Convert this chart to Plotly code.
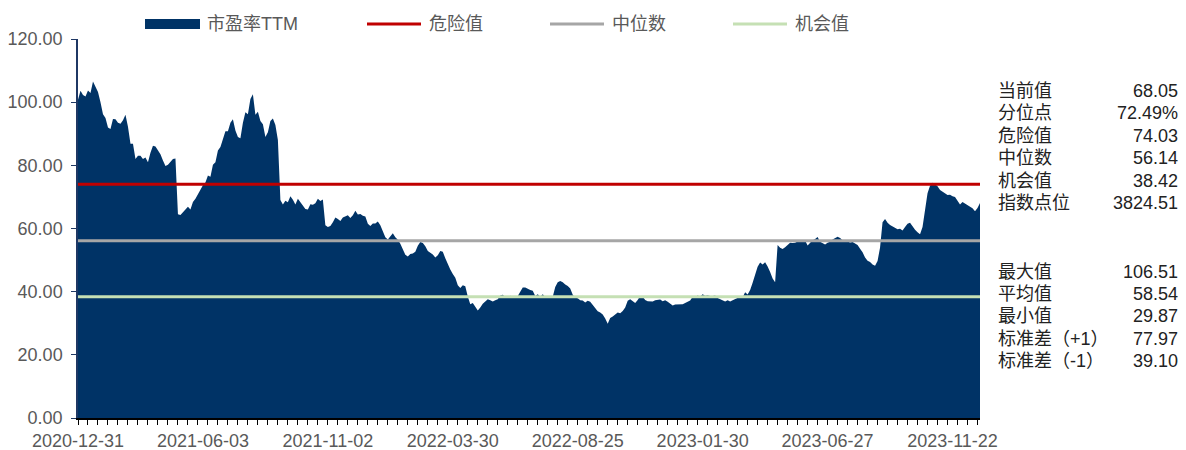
import numpy as np
import plotly.graph_objects as go

# Trading-day tick labels (one every 100 trading days)
date_labels = ["2020-12-31", "2021-06-03", "2021-11-02", "2022-03-30",
               "2022-08-25", "2023-01-30", "2023-06-27", "2023-11-22"]
label_days = [0, 100, 200, 300, 400, 500, 600, 700]

# PE (TTM), sampled every 2 trading days
sample_step = 2
pe_ttm = [
    100.8, 103.6, 102.3, 101.8, 103.7, 102.9, 106.51, 105.0, 103.2, 100.0,
    96.2, 95.0, 92.0, 91.5, 94.7, 94.6, 93.5, 93.2, 94.3, 96.0,
    92.2, 86.8, 86.8, 82.0, 83.0, 83.0, 82.0, 82.5, 81.0, 84.0,
    86.2, 86.0, 84.8, 83.5, 81.5, 79.8, 80.2, 81.0, 82.0, 82.2,
    64.5, 64.3, 65.2, 66.2, 66.9, 66.0, 68.4, 69.4, 71.0, 72.2,
    73.7, 74.6, 76.8, 76.4, 80.2, 81.0, 84.7, 85.8, 88.0, 90.8,
    90.8, 93.5, 94.6, 91.0, 89.0, 88.6, 93.5, 96.8, 96.2, 101.0,
    102.5, 96.0, 97.0, 94.0, 93.0, 89.0, 90.5, 94.0, 94.8, 92.8,
    88.0, 69.0, 67.6, 68.8, 68.3, 70.2, 69.1, 67.6, 69.4, 68.2,
    67.0, 66.2, 66.0, 67.7, 67.5, 68.0, 69.4, 68.7, 69.2, 61.0,
    60.5, 60.8, 62.0, 63.5, 63.0, 62.4, 63.5, 63.8, 64.2, 63.3,
    64.2, 65.6, 64.4, 64.6, 64.0, 63.8, 61.5, 60.8, 61.6, 61.6,
    62.2, 61.0, 59.0, 57.2, 56.5, 57.6, 58.5, 57.2, 56.4, 55.2,
    53.4, 51.7, 51.1, 51.9, 52.1, 52.6, 54.5, 55.7, 55.4, 54.4,
    52.9, 52.4, 51.8, 50.8, 51.5, 52.9, 52.6, 50.6, 48.6, 47.0,
    45.6, 44.4, 42.0, 41.2, 42.0, 41.7, 38.5, 36.0, 36.4, 35.0,
    34.0, 35.0, 36.2, 36.9, 37.6, 37.3, 36.9, 37.3, 37.6, 38.8,
    39.0, 38.3, 38.3, 38.7, 38.4, 38.6, 38.6, 40.0, 41.3, 41.3,
    40.8, 40.5, 40.3, 38.6, 39.2, 38.4, 39.2, 38.3, 38.2, 38.2,
    38.4, 41.5, 43.0, 43.4, 43.0, 42.3, 41.8, 41.0, 39.0, 38.1,
    37.9, 37.3, 37.2, 36.6, 37.1, 36.8, 35.8, 35.0, 33.8, 33.4,
    32.8, 31.5, 29.87, 31.7, 32.1, 32.8, 33.4, 33.2, 33.9, 35.0,
    37.1, 37.6, 36.9, 36.4, 37.4, 38.6, 38.4, 37.4, 37.0, 37.0,
    36.9, 37.3, 37.3, 37.5, 37.0, 37.3, 36.8, 36.2, 35.6, 35.9,
    36.0, 36.0, 36.0, 36.4, 36.8, 37.2, 38.4, 38.4, 38.8, 38.5,
    39.2, 38.7, 38.9, 38.6, 38.6, 38.8, 38.0, 37.6, 37.2, 36.9,
    37.3, 36.9, 37.3, 37.7, 38.1, 38.4, 38.2, 39.8, 39.1, 40.5,
    42.8, 45.8, 47.9, 49.2, 48.6, 49.3, 48.0, 46.2, 44.2, 43.0,
    54.8, 53.9, 53.5, 54.1, 54.9, 55.5, 55.4, 55.5, 55.9, 56.3,
    55.9, 56.2, 54.6, 55.5, 56.3, 56.7, 57.3, 55.8, 55.3, 54.9,
    55.5, 55.8, 56.5, 57.0, 57.4, 57.0, 56.3, 56.1, 55.8, 55.6,
    55.7, 55.2, 54.8, 53.6, 52.5, 50.8, 49.8, 49.4, 48.6, 48.2,
    49.7, 54.0, 62.0, 63.0, 61.8, 61.1, 60.7, 60.4, 59.8, 59.9,
    59.4, 60.5, 61.5, 61.8, 60.6, 59.6, 58.8, 58.2, 60.5, 66.5,
    71.2, 73.5, 74.5, 74.0, 73.4, 72.2, 71.6, 71.0, 70.6, 70.7,
    70.2, 70.0, 68.8, 67.6, 68.4, 67.9, 67.4, 66.9, 66.4, 65.5,
    66.5, 68.05,
]

# Reference levels
danger_value = 74.03
median_value = 56.14
chance_value = 38.42

# Side panel statistics
stat_names_top = ["当前值", "分位点", "危险值", "中位数", "机会值", "指数点位"]
stat_values_top = ["68.05", "72.49%", "74.03", "56.14", "38.42", "3824.51"]
stat_names_bottom = ["最大值", "平均值", "最小值", "标准差（+1）", "标准差（-1）"]
stat_values_bottom = ["106.51", "58.54", "29.87", "77.97", "39.10"]

series_names = ["市盈率TTM", "危险值", "中位数", "机会值"]
area_color = "#003366"
line_colors = {"危险值": "#C00000", "中位数": "#A6A6A6", "机会值": "#C5E0B4"}

W, H = 1186, 450
M_L, M_R, M_T, M_B = 78, 206, 39, 32
PLOT_W = W - M_L - M_R
PLOT_H = H - M_T - M_B

FONT = "Liberation Sans, Arial, Noto Sans CJK SC, sans-serif"
FS = 18


def px_x(px):
    return (px - M_L) / PLOT_W


def px_y(py):
    return (H - M_B - py) / PLOT_H


days = np.arange(len(pe_ttm)) * sample_step
last_day = int(days[-1])

fig = go.Figure()

fig.add_trace(go.Scatter(
    x=days, y=pe_ttm, mode="lines", fill="tozeroy",
    line=dict(width=0, color=area_color), fillcolor=area_color,
    name=series_names[0], showlegend=False,
))

for name, level in zip(series_names[1:], [danger_value, median_value, chance_value]):
    fig.add_trace(go.Scatter(
        x=[0, last_day], y=[level, level], mode="lines",
        line=dict(width=3, color=line_colors[name]),
        name=name, showlegend=False,
    ))

# Legend row drawn along the top edge
legend_y = 24
legend_items = [
    (series_names[0], 145, "rect"),
    (series_names[1], 367, "line"),
    (series_names[2], 550, "line"),
    (series_names[3], 733, "line"),
]
shapes = []
annotations = []
for name, x0, kind in legend_items:
    if kind == "rect":
        shapes.append(dict(type="rect", xref="paper", yref="paper",
                           x0=px_x(x0), x1=px_x(x0 + 55),
                           y0=px_y(legend_y + 5), y1=px_y(legend_y - 5),
                           fillcolor=area_color, line=dict(width=0)))
    else:
        shapes.append(dict(type="line", xref="paper", yref="paper",
                           x0=px_x(x0), x1=px_x(x0 + 54),
                           y0=px_y(legend_y), y1=px_y(legend_y),
                           line=dict(color=line_colors[name], width=3)))
    annotations.append(dict(text=name, xref="paper", yref="paper",
                            x=px_x(x0 + 60), y=px_y(legend_y),
                            xanchor="left", yanchor="middle", showarrow=False,
                            font=dict(size=FS, color="#595959", family=FONT)))


# Statistics panel on the right
def add_stats(names, values, y_start):
    for j, (n, v) in enumerate(zip(names, values)):
        yy = y_start + j * 22.4
        annotations.append(dict(text=n, xref="paper", yref="paper",
                                x=px_x(996), y=px_y(yy), xanchor="left",
                                yanchor="middle", showarrow=False,
                                font=dict(size=FS, color="#222222", family=FONT)))
        annotations.append(dict(text=v, xref="paper", yref="paper",
                                x=px_x(1180), y=px_y(yy), xanchor="right",
                                yanchor="middle", showarrow=False,
                                font=dict(size=FS, color="#222222", family=FONT)))


add_stats(stat_names_top, stat_values_top, 91)
add_stats(stat_names_bottom, stat_values_bottom, 271.5)

fig.update_layout(
    width=W, height=H,
    margin=dict(l=M_L, r=M_R, t=M_T, b=M_B),
    paper_bgcolor="white", plot_bgcolor="white",
    showlegend=False,
    shapes=shapes, annotations=annotations,
    font=dict(family=FONT, size=FS, color="#595959"),
)

fig.update_xaxes(
    range=[0, last_day], tickvals=label_days, ticktext=date_labels,
    ticks="", showgrid=False, zeroline=False, automargin=False,
    showline=True, linecolor="#000000", linewidth=1.5,
    tickfont=dict(size=FS, color="#595959", family=FONT),
    ticklabelstandoff=6,
    minor=dict(ticks="outside", dtick=8, tick0=0, ticklen=5,
               tickcolor="#000000", tickwidth=1, showgrid=False),
)

fig.update_yaxes(
    range=[0, 120], tickvals=list(range(0, 121, 20)), tickformat=".2f",
    ticks="outside", ticklen=5, tickcolor="#1F3864", tickwidth=1,
    showgrid=False, zeroline=False, automargin=False,
    showline=True, linecolor="#1F3864", linewidth=1.5,
    tickfont=dict(size=FS, color="#595959", family=FONT),
    ticklabelstandoff=5,
)

fig.write_html("out.html")
